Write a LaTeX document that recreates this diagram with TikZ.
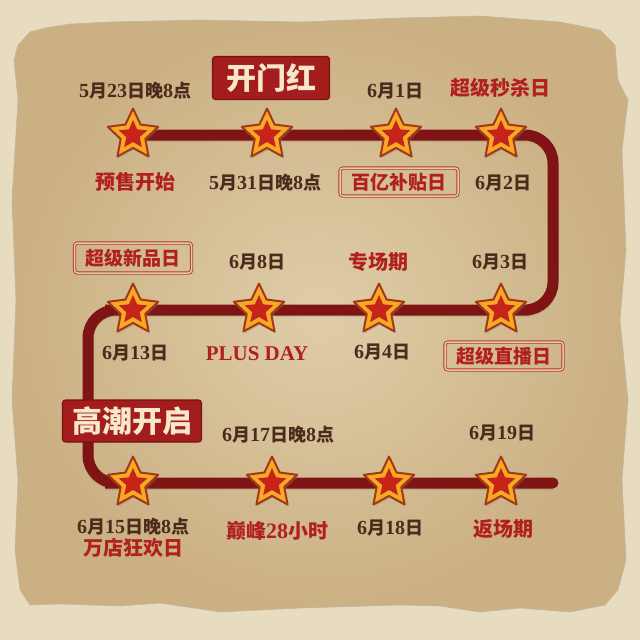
\documentclass[tikz,border=0pt]{standalone}
\usepackage{fontspec}
\newfontfamily\cjk{Noto Sans CJK SC}
\newfontfamily\ser{Liberation Serif}
\usetikzlibrary{shapes.geometric,shadows}
\definecolor{outerbg}{HTML}{E8DCC0}
\definecolor{paperc}{HTML}{DFCDA8}
\definecolor{paperedge}{HTML}{CBB083}
\definecolor{paperline}{HTML}{8C6A42}
\definecolor{linec}{HTML}{7E1414}
\definecolor{datec}{HTML}{4A2B1C}
\definecolor{redt}{HTML}{B21F1F}
\definecolor{boxc}{HTML}{A31D1D}
\definecolor{boxedge}{HTML}{7A1212}
\definecolor{boxtxt}{HTML}{F7E8CC}
\definecolor{stampc}{HTML}{B8372E}
\definecolor{staredge}{HTML}{A23A16}
\definecolor{stargold}{HTML}{F6A826}
\definecolor{starred}{HTML}{C6241A}
\newcommand\dg[1]{{\ser\bfseries\fontsize{20}{20}\selectfont #1}}
\newcommand\dgr[1]{{\ser\bfseries\fontsize{22}{22}\selectfont #1}}
\pgfdeclarelayer{paperlayer}
\pgfdeclarelayer{linelayer}
\pgfsetlayers{paperlayer,linelayer,main}
\tikzset{
  dt/.style={font=\cjk\bfseries\fontsize{18}{18}\selectfont, text=datec, inner sep=0pt},
  rt/.style={font=\cjk\bfseries\fontsize{20}{20}\selectfont, text=redt, inner sep=0pt},
  starout/.style={star, star points=5, star point ratio=2.05, minimum size=53pt, inner sep=0pt,
    fill=stargold, draw=staredge, line width=2pt, line join=round,
    drop shadow={opacity=0.3, shadow xshift=1pt, shadow yshift=-2pt}},
  starin/.style={star, star points=5, star point ratio=2.15, minimum size=30pt, inner sep=0pt,
    fill=starred, draw=none},
  stampbox/.style={draw=stampc, line width=0.9pt, double=paperc, double distance=1.5pt,
    rounded corners=3pt, text=redt, font=\cjk\bfseries\fontsize{19}{19}\selectfont,
    minimum width=#1, minimum height=28pt, inner sep=0pt},
  hbox/.style={fill=boxc, draw=boxedge, line width=1.2pt, rounded corners=3pt, text=boxtxt,
    font=\cjk\bfseries\fontsize{30}{30}\selectfont, minimum width=#1, minimum height=43pt, inner sep=0pt},
  tl/.style={draw=linec, line width=11pt, rounded corners=28pt, line cap=round,
    preaction={draw=black, opacity=0.08, line width=11pt, transform canvas={yshift=-1.5pt}}},
}
\begin{document}
\begin{tikzpicture}[x=1pt,y=-1pt]
\useasboundingbox (0,0) rectangle (640,640);
\begin{pgfonlayer}{paperlayer}
\fill[outerbg] (0,0) rectangle (640,640);
\shade[inner color=paperc, outer color=paperedge, draw=paperline!50, line width=0.6pt]
 (18,45) -- (30,32) -- (45,28) -- (70,24) -- (110,22) -- (200,20) -- (300,22) -- (400,18)
 -- (480,16) -- (560,22) -- (600,30) -- (615,45) -- (618,80) -- (628,100) -- (622,150)
 -- (626,250) -- (620,320) -- (628,400) -- (622,480) -- (626,560) -- (618,590) -- (605,605)
 -- (570,612) -- (520,608) -- (480,612) -- (440,606) -- (400,605) -- (300,608) -- (220,612)
 -- (160,603) -- (120,606) -- (60,604) -- (30,605) -- (20,590) -- (15,550) -- (18,480)
 -- (12,400) -- (16,300) -- (12,200) -- (18,100) -- (14,60) -- cycle;
\end{pgfonlayer}

% stars
\foreach \n/\x/\y in {1/133/135,2/267/135,3/396/135,4/501/135,
                      5/501/310,6/379/310,7/259/310,8/133/310,
                      9/133/483,10/272/483,11/389/483,12/501/483}{
  \node[starout] (s\n) at (\x,\y) {};
  \node[starin] (si\n) at (\x,\y) {};
}
\coordinate (c1) at (553,135);
\coordinate (c2) at (553,310);
\coordinate (c3) at (88,310);
\coordinate (c4) at (88,483);
\coordinate (lend) at (553,483);
\begin{pgfonlayer}{linelayer}
\draw[tl] (s1.center) -- (s2.center) -- (s3.center) -- (s4.center) -- (c1) -- (c2)
  -- (s5.center) -- (s6.center) -- (s7.center) -- (s8.center) -- (c3) -- (c4)
  -- (s9.center) -- (s10.center) -- (s11.center) -- (s12.center) -- (lend);
\end{pgfonlayer}

% row 1
\node[dt] (t1) at (135,91) {\dg{5}月\dg{23}日晚\dg{8}点};
\node[hbox=117pt] (h1) at (271,78) {开门红};
\node[dt] (t2) at (395,91) {\dg{6}月\dg{1}日};
\node[rt] (r1) at (500,88) {超级秒杀日};
\node[rt] (r2) at (135,182) {预售开始};
\node[dt] (t3) at (265,183) {\dg{5}月\dg{31}日晚\dg{8}点};
\node[stampbox=118pt] (b1) at (399,182) {百亿补贴日};
\node[dt] (t4) at (503,183) {\dg{6}月\dg{2}日};
% row 2
\node[stampbox=117pt, minimum height=30pt] (b2) at (133,258) {超级新品日};
\node[dt] (t5) at (257,262) {\dg{6}月\dg{8}日};
\node[rt] (r3) at (378,262) {专场期};
\node[dt] (t6) at (500,262) {\dg{6}月\dg{3}日};
\node[dt] (t7) at (135,353) {\dg{6}月\dg{13}日};
\node[font=\ser\bfseries\fontsize{21}{21}\selectfont, text=redt, inner sep=0pt] (r4) at (257,354) {PLUS DAY};
\node[dt] (t8) at (382,352) {\dg{6}月\dg{4}日};
\node[stampbox=118pt] (b3) at (504,356) {超级直播日};
% row 3
\node[hbox=139pt, minimum height=42pt] (h2) at (132,421) {高潮开启};
\node[dt] (t9) at (278,435) {\dg{6}月\dg{17}日晚\dg{8}点};
\node[dt] (t10) at (502,433) {\dg{6}月\dg{19}日};
\node[dt] (t11) at (133,527) {\dg{6}月\dg{15}日晚\dg{8}点};
\node[rt] (r5) at (133,548) {万店狂欢日};
\node[rt] (r6) at (277,531) {巅峰\dgr{28}小时};
\node[dt] (t12) at (390,528) {\dg{6}月\dg{18}日};
\node[rt] (r7) at (503,529) {返场期};
\end{tikzpicture}
\end{document}
